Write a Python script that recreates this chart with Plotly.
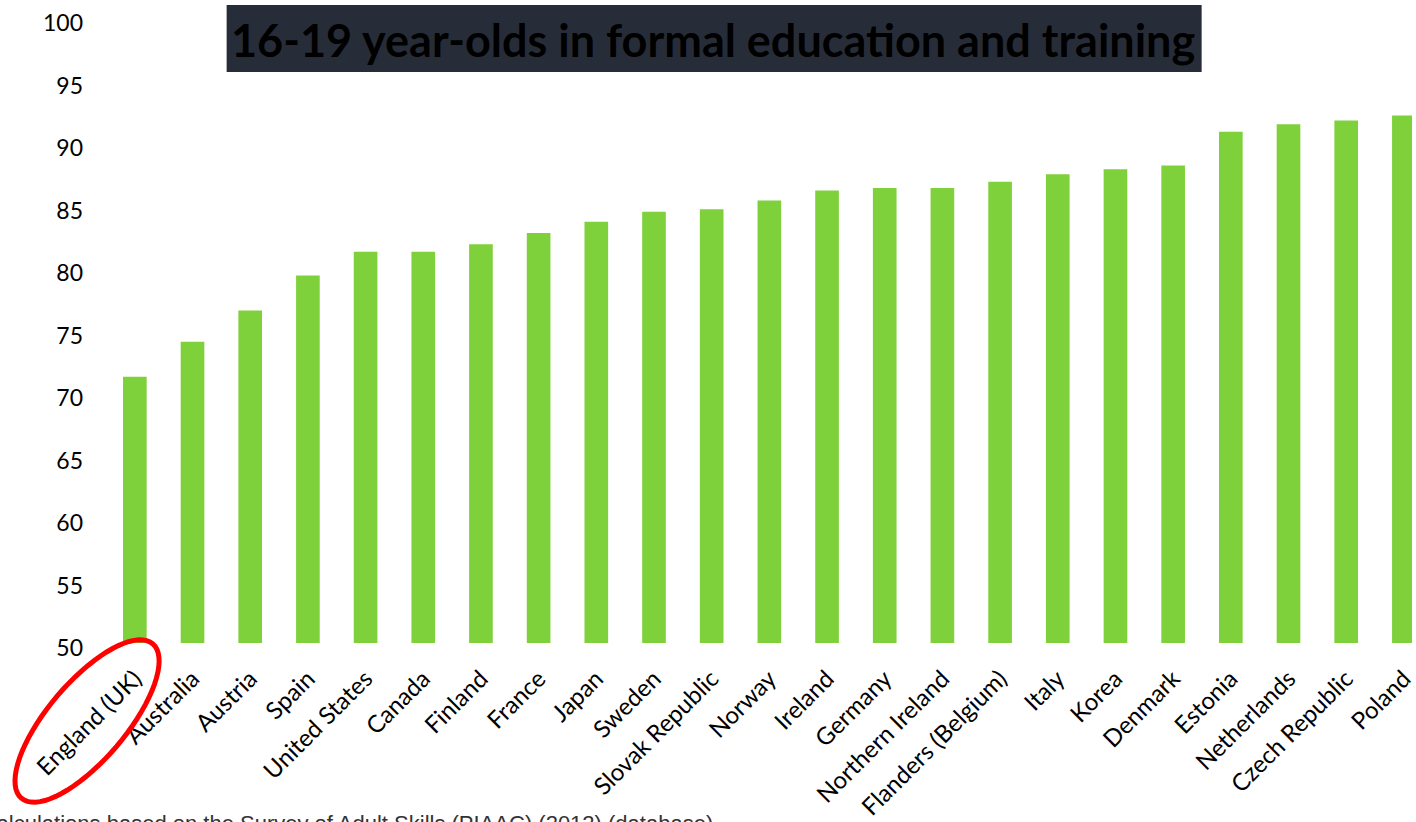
import math
import plotly.graph_objects as go

# Share of 16-19 year-olds in formal education and training, by country
countries = [
    "England (UK)", "Australia", "Austria", "Spain", "United States", "Canada",
    "Finland", "France", "Japan", "Sweden", "Slovak Republic", "Norway",
    "Ireland", "Germany", "Northern Ireland", "Flanders (Belgium)", "Italy",
    "Korea", "Denmark", "Estonia", "Netherlands", "Czech Republic", "Poland",
]
share_pct = [
    71.3, 74.1, 76.6, 79.4, 81.3, 81.3,
    81.9, 82.8, 83.7, 84.5, 84.7, 85.4,
    86.2, 86.4, 86.4, 86.9, 87.5,
    87.9, 88.2, 90.9, 91.5, 91.8, 92.2,
]
y_ticks = [50, 55, 60, 65, 70, 75, 80, 85, 90, 95, 100]

TITLE = "16-19 year-olds in formal education and training"
SOURCE = "Source: OECD calculations based on the Survey of Adult Skills (PIAAC) (2012) (database)."

# Page geometry (pixels)
FIG_W, FIG_H = 1416, 822
M_L, M_R, M_T, M_B = 106, 0, 18, 179
PLOT_W = FIG_W - M_L - M_R
PLOT_H = FIG_H - M_T - M_B
CAT_STEP = 57.86  # pixels per category


def to_paper(px, py):
    """Convert page pixel coordinates to plot-area paper coordinates."""
    return (px - M_L) / PLOT_W, (FIG_H - M_B - py) / PLOT_H


fig = go.Figure(
    go.Bar(
        x=countries,
        y=share_pct,
        marker=dict(color="#7fd13b", line=dict(width=0)),
    )
)

fig.update_layout(
    width=FIG_W,
    height=FIG_H,
    margin=dict(l=M_L, r=M_R, t=M_T, b=M_B, pad=0),
    paper_bgcolor="white",
    plot_bgcolor="white",
    bargap=0.59,
    showlegend=False,
    xaxis=dict(
        type="category",
        range=[-0.5, -0.5 + PLOT_W / CAT_STEP],
        tickangle=-45,
        tickfont=dict(family="Lato, Calibri, sans-serif", size=24, color="#000000"),
        ticklabelstandoff=16,
        showgrid=False,
        showline=False,
        zeroline=False,
        ticks="",
        fixedrange=True,
    ),
    yaxis=dict(
        range=[50, 100],
        tickvals=y_ticks,
        tickfont=dict(family="Lato, Calibri, sans-serif", size=23, color="#000000"),
        showgrid=False,
        showline=False,
        zeroline=False,
        ticks="",
        ticklabelstandoff=22,
        ticklabelshift=5,
        ticklabeloverflow="allow",
        fixedrange=True,
    ),
)

# Title banner: dark box with bold heading
bx0, by0 = to_paper(227, 5)
bx1, by1 = to_paper(1205, 72)
fig.add_shape(
    type="rect", xref="paper", yref="paper",
    x0=bx0, x1=bx1, y0=by1, y1=by0,
    fillcolor="#272d38", line=dict(width=0), layer="above",
)
tx, ty = to_paper(715, 40)
fig.add_annotation(
    text=f"<b>{TITLE}</b>", xref="paper", yref="paper",
    x=tx, y=ty, xanchor="center", yanchor="middle", showarrow=False,
    font=dict(family="Lato, Calibri, sans-serif", size=45, color="#000000"),
)

# Red ellipse highlighting England (UK)
cx, cy, a, b, theta = 87, 721, 101.5, 39, math.radians(49.5)
pts = []
for i in range(73):
    t = 2 * math.pi * i / 72
    px = cx + a * math.cos(t) * math.cos(theta) - b * math.sin(t) * math.sin(theta)
    py = cy - (a * math.cos(t) * math.sin(theta) + b * math.sin(t) * math.cos(theta))
    pts.append(to_paper(px, py))
path = "M " + " L ".join(f"{x:.5f},{y:.5f}" for x, y in pts) + " Z"
fig.add_shape(
    type="path", xref="paper", yref="paper", path=path,
    line=dict(color="#ff0000", width=5), fillcolor="rgba(0,0,0,0)", layer="above",
)

# Source note along the bottom edge
sx, sy = to_paper(722, 810)
fig.add_annotation(
    text=SOURCE, xref="paper", yref="paper", x=sx, y=sy,
    xanchor="right", yanchor="top", showarrow=False, borderpad=0,
    font=dict(family="Liberation Sans, Arial, sans-serif", size=22, color="#333333"),
)

fig.write_html("out.html")
